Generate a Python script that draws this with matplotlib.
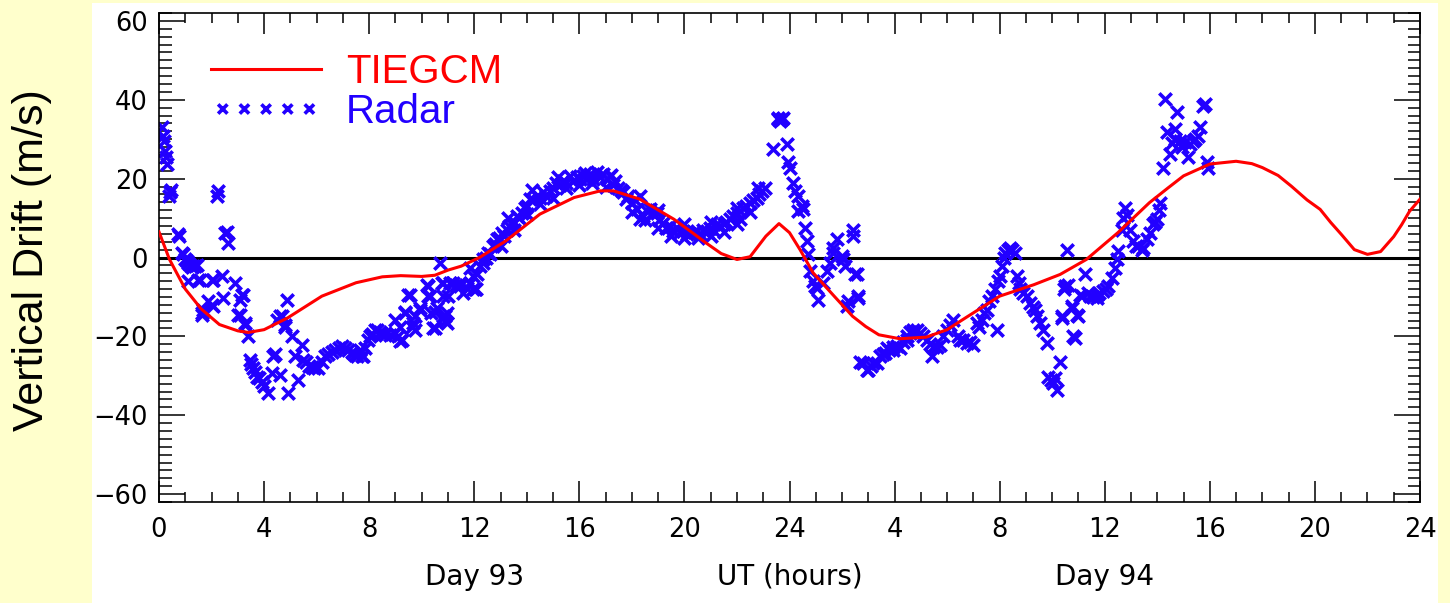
import matplotlib
matplotlib.use("Agg")
import matplotlib.pyplot as plt
from matplotlib.patches import Rectangle
from matplotlib.ticker import MultipleLocator, FixedLocator

plt.rcParams['font.family'] = ['Liberation Sans', 'DejaVu Sans']

# TIEGCM model curve (hours since start of day 93, m/s)
tie_t = [0, 0.4, 1.0, 1.6, 2.3, 3.0, 3.4, 4.0, 4.9, 6.2, 7.5, 8.5, 9.2, 10.0, 10.5,
         11.0, 11.5, 12.2, 13.2, 14.5, 15.8, 16.8, 17.3, 18.3, 19.6, 20.3, 20.8, 21.4,
         22.0, 22.5, 23.1, 23.6, 24.0, 24.4, 24.9, 25.7, 26.4, 26.9, 27.4, 28.2, 29.2,
         30.0, 30.7, 32.0, 33.3, 34.3, 35.3, 36.5, 37.7, 38.4, 39.0, 40.0, 41.0, 41.6,
         42.0, 42.6, 43.1, 43.7, 44.2, 44.6, 45.0, 45.5, 46.0, 46.5, 47.0, 47.3, 47.6,
         48.0]
tie_v = [6.5, -0.5, -8, -13, -17, -18.6, -19, -18.3, -15.3, -9.8, -6.4, -4.9, -4.6,
         -4.8, -4.5, -3.2, -2.2, 0, 4.2, 11, 15.2, 16.9, 16.9, 14.8, 9.7, 6.3, 3.8, 1.0,
         -0.5, 0.2, 5.4, 8.6, 6.3, 2.0, -3.9, -9.8, -14.9, -17.5, -19.6, -20.6, -20.2,
         -18.3, -15.3, -9.8, -6.9, -4.3, -0.5, 6.3, 13.9, 17.6, 20.7, 23.7, 24.4, 23.8,
         22.8, 20.8, 18.1, 14.6, 12.2, 8.9, 5.9, 2.0, 0.8, 1.5, 5.3, 8.3, 11.7, 14.8]

# Radar observations (hours, m/s)
radar_t = [
    0.10, 0.16, 0.20, 0.23, 0.27, 0.29, 0.39, 0.42, 0.45, 0.74, 0.78, 0.86, 0.93, 0.99,
    1.05, 1.12, 1.18, 1.25, 1.30, 1.37, 1.43, 1.12, 1.50, 1.56, 2.00, 2.07, 2.38, 2.20,
    2.26, 2.51, 2.57, 2.64, 2.89, 3.08, 3.15, 3.21, 1.88, 2.07, 2.00, 2.45, 1.62, 1.69,
    1.65, 3.02, 3.08, 3.27, 3.27, 3.40,
    3.46, 3.52, 3.59, 3.65, 3.72, 3.80, 3.91, 4.00, 4.16, 4.29, 4.35, 4.42, 4.48, 4.60,
    4.60, 4.67, 4.80, 4.80, 4.86, 4.92, 5.05, 5.18, 5.30, 5.43, 5.49, 5.60, 5.70, 5.81,
    5.90, 6.06,
    6.20, 6.32, 6.45, 6.58, 6.70, 6.85, 6.95, 7.08, 7.20, 7.35, 7.40, 7.46, 7.55, 7.65,
    7.72, 7.78, 7.85, 7.97, 8.03, 8.10, 8.22, 8.29, 8.40, 8.50, 8.60, 8.79, 8.98, 8.98,
    9.10, 9.17, 9.17, 9.24, 9.36, 9.36, 9.49, 9.55, 9.62, 9.68, 9.74, 9.74, 9.94, 9.94,
    10.19, 10.25, 10.25, 10.30, 10.37, 10.44, 10.50, 10.50, 10.60, 10.70, 10.76, 10.82,
    10.82, 10.82, 10.89, 10.90, 10.95, 10.95, 11.00, 11.08, 11.20,
    11.30, 11.46, 11.46, 11.59, 11.71, 11.84, 11.84, 11.96, 11.96, 12.03, 12.08, 12.10,
    12.22, 12.35, 12.35, 12.45, 12.54, 12.60, 12.73, 12.80, 12.85, 12.95, 13.04, 13.15,
    13.23, 13.32, 13.42, 13.50, 13.61, 13.70, 13.80, 13.93, 14.00, 14.12, 14.25, 14.37,
    14.50, 14.62, 14.75, 14.88, 15.00, 15.13, 15.25, 15.39, 15.50, 15.64, 15.77, 15.90,
    16.02, 16.15, 16.28, 16.41, 16.53, 16.66, 16.80, 16.91, 17.05, 17.17, 17.30, 17.36,
    17.48, 17.58, 17.67, 17.78, 17.86, 17.99, 18.10, 18.18, 18.31, 18.44, 18.55, 18.69,
    18.80, 18.94, 19.05, 19.20, 19.30, 19.45, 19.58, 19.70, 19.83, 19.96, 20.08, 20.21,
    20.35, 20.47, 20.60, 20.72, 20.85, 20.98, 21.10, 21.23, 21.36, 21.50, 21.60, 21.74,
    21.85, 21.99, 22.12, 22.24, 22.35, 22.50, 22.60, 22.75, 22.85, 22.94, 23.07,
    13.0, 13.5, 14.0, 14.5, 15.0, 15.5, 16.0, 16.5, 17.0, 18.0, 18.5, 19.0, 19.5, 20.0,
    20.5, 21.0, 21.5, 22.0, 22.5, 13.3, 14.2, 15.2, 16.2, 17.2, 18.3, 19.0, 20.0, 21.0,
    22.0, 22.8,
    23.39, 23.55, 23.58, 23.64, 23.70, 23.77, 23.89, 23.96, 24.02, 24.15, 24.21, 24.34,
    24.47, 24.34, 24.53, 24.59, 24.65, 24.72, 24.78, 24.91, 24.97, 25.04, 25.10, 25.29,
    25.42, 25.54, 25.67, 25.67, 25.80, 25.98, 26.05, 26.11, 26.43, 26.43, 26.49, 26.56,
    26.17, 26.24, 26.62, 26.62,
    26.68, 26.81, 26.94, 27.00, 27.10, 27.19, 27.32, 27.45, 27.55, 27.64, 27.70, 27.80,
    27.95, 27.95, 28.10, 28.21, 28.33, 28.46, 28.46, 28.60, 28.71, 28.71, 28.85, 28.97,
    29.10, 29.22, 29.35, 29.41, 29.48, 29.60, 29.73, 29.86, 29.98, 30.10, 30.24, 30.43,
    30.49, 30.62, 30.74, 30.87, 31.00, 31.12, 31.20, 31.31, 31.40, 31.50, 31.60, 31.69,
    31.82, 31.88, 31.95, 32.01, 32.08, 32.15, 32.20, 32.30, 32.39, 32.48, 32.58, 32.65,
    32.72, 32.77, 32.90, 33.03, 33.15, 33.25, 33.35, 33.41, 33.54, 33.66, 33.79, 33.85,
    33.95, 34.04, 34.10, 34.17, 34.30,
    34.36, 34.36, 34.43, 34.49, 34.55, 34.62, 34.75, 34.75, 34.81, 34.87, 34.94, 35.00,
    35.06, 35.12, 35.25, 35.37, 35.44, 35.55, 35.69, 35.69, 35.80, 35.94, 36.05, 36.13,
    36.26, 36.39, 36.45, 36.51, 36.64, 36.70, 36.77, 36.83, 36.96, 37.09, 37.20, 37.28,
    37.40, 37.47, 37.60, 37.72, 37.85, 37.92, 37.98, 38.05, 38.10, 38.23, 38.30, 38.36,
    38.48, 38.55, 38.68, 38.68, 38.74, 38.87, 38.95, 39.06, 39.18, 39.25, 39.35, 39.44,
    39.56, 39.63, 39.75, 39.82, 39.88, 39.94,
]
radar_v = [
    33.0, 30.9, 29.5, 27.0, 25.4, 23.7, 15.6, 16.5, 17.0, 6.0, 5.5, 1.2, 0.8, -0.5,
    -1.0, -1.3, -1.8, -2.5, -2.2, -2.2, -1.8, -6.0, -5.6, -5.6, -5.6, -5.6, -4.8, 15.6,
    16.9, 6.3, 6.4, 3.7, -6.4, -10.7, -9.4, -9.4, -11.1, -12.4, -12.0, -10.3, -14.5, -13.2,
    -14.0, -14.5, -14.5, -16.6, -17.0, -20.0,
    -26.0, -27.0, -28.1, -29.0, -30.2, -30.5, -31.5, -32.5, -34.4, -29.3, -25.1, -24.5, -15.8, -14.9,
    -29.8, -14.9, -17.0, -17.5, -10.7, -34.4, -20.0, -25.1, -31.0, -22.1, -26.0, -26.5, -27.5, -27.7,
    -28.0, -28.1,
    -26.5, -25.1, -24.5, -24.0, -23.4, -23.0, -22.5, -23.0, -23.5, -24.0, -24.2, -24.7, -25.0, -23.4,
    -25.1, -25.1, -23.0, -20.9, -20.0, -19.5, -18.3, -18.3, -19.0, -19.5, -19.6, -19.6, -19.2, -15.8,
    -20.0, -17.5, -21.3, -20.9, -14.1, -13.7, -9.4, -9.4, -17.5, -16.6, -18.3, -14.9, -12.8, -13.2,
    -6.9, -7.3, -9.8, -9.8, -14.1, -17.9, -17.9, -13.7, -12.8, -1.3, -6.4, -6.4,
    -14.9, -9.8, -16.2, -14.9, -16.6, -14.1, -9.8, -6.4, -6.4,
    -7.0, -6.4, -7.3, -9.0, -7.7, -6.4, -2.6, -4.8, -8.1, -8.1, -8.1, -4.3,
    -2.2, -1.3, -0.5, 0.0, 1.2, 0.8, 2.9, 3.5, 4.6, 5.0, 6.3, 5.5,
    7.1, 8.0, 8.4, 9.0, 10.5, 10.0, 11.4, 12.6, 13.0, 14.8, 14.5, 15.6,
    15.0, 16.5, 15.5, 16.9, 17.5, 19.0, 18.5, 19.5, 19.0, 20.7, 19.5, 20.3,
    19.8, 20.7, 19.8, 21.1, 20.0, 21.6, 20.3, 21.1, 19.8, 20.7, 18.5, 19.5,
    17.7, 17.0, 16.5, 14.8, 15.6, 13.9, 14.5, 12.2, 9.7, 10.5, 12.0, 12.2,
    11.0, 11.4, 9.5, 8.8, 7.5, 8.0, 6.8, 7.6, 6.5, 6.7, 6.0, 5.9,
    6.5, 6.7, 6.0, 7.1, 6.5, 7.6, 7.0, 8.4, 8.0, 8.5, 9.0, 9.7,
    10.5, 11.4, 9.7, 12.6, 13.0, 13.9, 14.5, 15.2, 16.0, 16.9, 17.7,
    3.0, 7.0, 11.0, 13.5, 15.0, 17.5, 18.5, 19.0, 18.0, 11.5, 9.5, 7.5, 5.5, 5.0,
    5.0, 5.5, 6.5, 8.5, 11.5, 10.0, 17.0, 20.5, 21.5, 21.0, 15.5, 12.0, 8.5, 9.0,
    12.5, 17.5,
    27.5, 35.0, 35.5, 34.7, 35.0, 35.5, 28.8, 24.1, 22.8, 19.0, 16.9, 15.6,
    13.1, 11.8, 12.2, 7.6, 4.2, 0.8, -3.5, -6.0, -7.3, -7.7, -10.7, -6.4,
    -3.5, -1.3, 2.5, 1.2, 4.6, 0.3, -0.5, -2.2, 7.1, 5.4, -4.3, -4.3,
    -12.4, -11.1, -9.8, -10.3,
    -26.4, -26.8, -28.5, -28.5, -27.5, -26.8, -26.8, -25.1, -24.5, -24.2, -23.0, -23.5,
    -22.6, -23.4, -22.5, -23.0, -21.5, -20.9, -20.0, -19.0, -18.3, -18.8, -18.5, -19.2,
    -20.0, -20.9, -22.0, -25.1, -22.6, -22.6, -22.1, -20.0, -18.3, -17.0, -15.8, -20.0,
    -20.9, -21.0, -21.7, -21.5, -22.1, -16.6, -17.5, -15.8, -14.0, -13.2, -11.0, -9.8,
    -8.1, -18.3, -6.0, -4.8, -2.2, 0.0, 1.2, 2.0, 2.5, 1.8, 1.2, -4.8,
    -6.5, -8.1, -9.0, -9.8, -11.5, -12.5, -13.2, -14.9, -16.6, -18.3, -21.7, -30.2,
    -31.0, -31.9, -30.5, -33.6, -26.4,
    -14.9, -15.3, -8.1, -7.3, 2.0, -6.9, -12.4, -12.8, -20.0, -20.4, -14.5, -14.9,
    -9.4, -9.8, -4.3, -9.0, -9.8, -10.0, -9.4, -10.3, -9.0, -8.6, -8.0, -7.3,
    -5.2, -2.6, -0.5, 1.6, 7.1, 10.0, 12.6, 10.9, 7.1, 4.2, 3.0, 2.9,
    2.0, 2.5, 4.6, 6.3, 8.4, 9.0, 9.7, 12.0, 13.9, 22.8, 40.2, 31.7,
    26.2, 29.0, 32.6, 30.0, 36.8, 29.6, 28.0, 29.2, 25.4, 28.8, 29.5, 30.0,
    30.9, 33.0, 38.5, 38.9, 24.1, 22.8,
]

xticks = [0, 4, 8, 12, 16, 20, 24, 28, 32, 36, 40, 44, 48]
xtick_labels = ['0', '4', '8', '12', '16', '20', '24', '4', '8', '12', '16', '20', '24']
yticks = [-60, -40, -20, 0, 20, 40, 60]
yticks_labels = ['\u221260', '\u221240', '\u221220', '0', '20', '40', '60']

W, H = 1450, 603
fig = plt.figure(figsize=(W / 100, H / 100), dpi=100, facecolor='#FFFFCC')
fig.patches.append(Rectangle((92 / W, 0), (1438 - 92) / W, 600 / H,
                             transform=fig.transFigure, facecolor='white',
                             edgecolor='none', zorder=-10))

ax = fig.add_axes([159 / W, (H - 502) / H, 1261 / W, 489 / H])
ax.set_facecolor('white')

blue = '#2200FF'
sc = ax.scatter(radar_t, radar_v, marker='x', s=80, linewidths=2.6, color=blue,
                zorder=2, label='Radar')
ax.axhline(0, color='black', lw=2.2, zorder=1)
ln, = ax.plot(tie_t, tie_v, color='#FF0000', lw=2.2, zorder=3, label='TIEGCM')

ax.set_xlim(0, 48)
ax.set_ylim(-62, 62)
ax.xaxis.set_major_locator(FixedLocator(xticks))
ax.set_xticklabels(xtick_labels, family='DejaVu Sans')
ax.xaxis.set_minor_locator(MultipleLocator(1))
ax.yaxis.set_major_locator(FixedLocator(yticks))
ax.set_yticklabels(yticks_labels, family='DejaVu Sans')
ax.yaxis.set_minor_locator(MultipleLocator(2))
ax.tick_params(which='both', direction='in', top=True, right=True, width=1.1,
               labelsize=18.5, colors='black')
ax.tick_params(axis='x', which='major', length=15, pad=11)
ax.tick_params(axis='x', which='minor', length=7.5)
ax.tick_params(axis='y', which='major', length=19, pad=8)
ax.tick_params(axis='y', which='minor', length=9)
for sp in ax.spines.values():
    sp.set_linewidth(1.2)

leg = ax.legend([ln, sc], ['TIEGCM', 'Radar'], loc='upper left',
                bbox_to_anchor=(0.041, 0.918), frameon=False, fontsize=29,
                handlelength=2.75, handletextpad=0.6, labelspacing=0.05,
                scatterpoints=5, scatteryoffsets=[0.5], markerscale=0.75,
                borderpad=0, borderaxespad=0)
leg.get_texts()[0].set_color('#FF0000')
leg.get_texts()[1].set_color(blue)

fig.text(32 / W, 1 - 260 / H, 'Vertical Drift (m/s)', rotation=90, fontsize=31,
         ha='center', va='center')
for xpos, lab in zip([12, 24, 36], ['Day 93', 'UT (hours)', 'Day 94']):
    ax.text(xpos, -81, lab, fontsize=20, family='DejaVu Sans',
            ha='center', va='center')

fig.savefig('out.png', dpi=100, facecolor=fig.get_facecolor())
